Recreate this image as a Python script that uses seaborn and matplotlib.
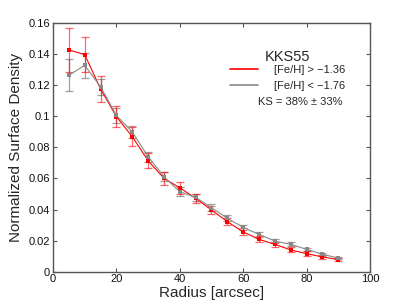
import matplotlib
matplotlib.use("Agg")
import matplotlib.pyplot as plt
from matplotlib.lines import Line2D
from matplotlib.ticker import FuncFormatter
import seaborn as sns
import numpy as np
import pandas as pd

# Radius bins [arcsec]
radius = [5, 10, 15, 20, 25, 30, 35, 40, 45, 50, 55, 60, 65, 70, 75, 80, 85, 90]

# metal-rich population
rich = [0.1427, 0.1397, 0.1176, 0.0998, 0.0869, 0.0714, 0.0601, 0.0540, 0.0472, 0.0397,
        0.0322, 0.0256, 0.0208, 0.0176, 0.0140, 0.0116, 0.0095, 0.0078]
rich_err = [0.0140, 0.0115, 0.0086, 0.0068, 0.0060, 0.0047, 0.0040, 0.0037, 0.0030, 0.0027,
            0.0024, 0.0023, 0.0020, 0.0018, 0.0016, 0.0014, 0.0012, 0.0011]

# metal-poor population
poor = [0.1264, 0.1328, 0.1190, 0.1005, 0.0900, 0.0740, 0.0611, 0.0515, 0.0478, 0.0412,
        0.0344, 0.0285, 0.0240, 0.0197, 0.0176, 0.0144, 0.0112, 0.0088]
poor_err = [0.0102, 0.0080, 0.0050, 0.0050, 0.0040, 0.0032, 0.0030, 0.0028, 0.0025, 0.0022,
            0.0020, 0.0017, 0.0015, 0.0014, 0.0012, 0.0011, 0.0010, 0.0009]

labels = ["[Fe/H] > \u22121.36", "[Fe/H] < \u22121.76"]
title = "KKS55"
ks_text = "KS = 38% \u00b1 33%"

sns.set_style("ticks")
plt.rcParams['font.family'] = ['Liberation Sans', 'DejaVu Sans']

df = pd.DataFrame({
    "r": radius * 2,
    "dens": rich + poor,
    "pop": [labels[0]] * len(radius) + [labels[1]] * len(radius),
})

fig = plt.figure(figsize=(4.09, 3.07), dpi=100, facecolor="white")
ax = fig.add_axes([0.1296, 0.115, 0.775, 0.81])
ax.set_facecolor("white")

red = "#ff0000"
gray = "#888888"

ax.errorbar(radius, poor, yerr=poor_err, fmt="none", ecolor=gray, elinewidth=0.9,
            capsize=3, capthick=0.9, alpha=0.8, zorder=2)
ax.errorbar(radius, rich, yerr=rich_err, fmt="none", ecolor=red, elinewidth=0.9,
            capsize=3, capthick=0.9, alpha=0.6, zorder=3)

sns.lineplot(data=df, x="r", y="dens", hue="pop", palette=[red, gray], hue_order=labels,
             marker="s", markersize=2.5, markeredgewidth=0, linewidth=0.8, ax=ax,
             legend=False, zorder=4)

ax.set_xlim(0, 100)
ax.set_ylim(0, 0.16)
ax.set_xticks([0, 20, 40, 60, 80, 100])
ax.set_yticks(np.arange(0, 0.161, 0.02))
ax.yaxis.set_major_formatter(FuncFormatter(lambda v, p: "%g" % round(v, 2)))
ax.tick_params(direction="in", length=3, width=0.8, labelsize=8, colors="#555555",
               labelcolor="#111111", top=True, right=True, pad=2)
for s in ax.spines.values():
    s.set_color("#555555")
    s.set_linewidth(1.0)

ax.set_xlabel("Radius [arcsec]", fontsize=11, labelpad=1)
ax.set_ylabel("Normalized Surface Density", fontsize=11, labelpad=4)

handles = [Line2D([0], [0], color=red, lw=1.2), Line2D([0], [0], color=gray, lw=1.2)]
leg = ax.legend(handles, labels, title=title, loc="upper left",
                bbox_to_anchor=(0.558, 0.893), frameon=False, fontsize=8,
                borderpad=0, borderaxespad=0,
                handlelength=2.5, handletextpad=1.5, labelspacing=0.55)
leg.get_title().set_fontsize(10.5)
leg._legend_box.sep = 1
ax.text(0.779, 0.682, ks_text, transform=ax.transAxes, ha="center", va="center", fontsize=8)

fig.savefig("out.png", dpi=100, facecolor="white")
